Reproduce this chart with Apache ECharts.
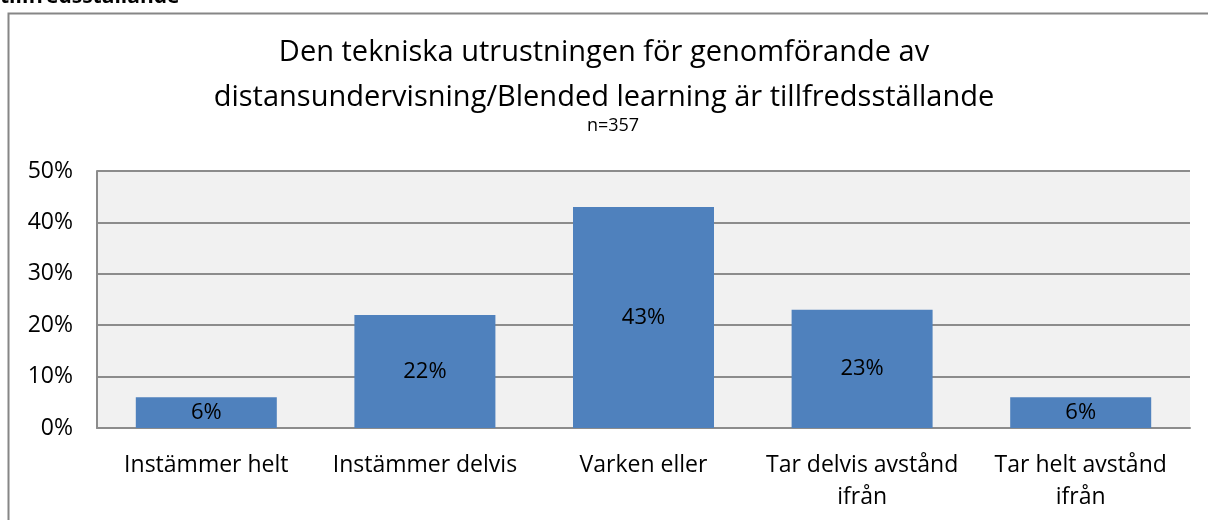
<!DOCTYPE html>
<html>
<head>
<meta charset="utf-8">
<script src="https://cdn.jsdelivr.net/npm/echarts@6/dist/echarts.min.js"></script>
<style>
  html, body { margin: 0; padding: 0; background: #fff; }
  #chart { width: 1208px; height: 520px; }
</style>
</head>
<body>
<div id="chart"></div>
<script>
// svarsalternativ och andelar
var categories = ['Instämmer helt', 'Instämmer delvis', 'Varken eller', 'Tar delvis avstånd\nifrån', 'Tar helt avstånd\nifrån'];
var shares = [0.06, 0.22, 0.43, 0.23, 0.06];
var yTicks = [0, 0.1, 0.2, 0.3, 0.4, 0.5];

var font = '"Open Sans", "Noto Sans", sans-serif';

var chartDom = document.getElementById('chart');
var myChart = echarts.init(chartDom);
var option;

option = {
  animation: false,
  textStyle: { fontFamily: font },
  title: {
    text: 'Den tekniska utrustningen för genomförande av\ndistansundervisning/Blended learning är tillfredsställande',
    left: 'center',
    top: 25,
    textStyle: { fontSize: 29, fontWeight: 'normal', color: '#000', lineHeight: 45, fontFamily: font }
  },
  graphic: [
    {
      type: 'rect',
      shape: { x: 8.5, y: 13.5, width: 1300, height: 600 },
      style: { fill: 'none', stroke: '#868686', lineWidth: 2 },
      silent: true
    },
    {
      type: 'text',
      x: 0,
      y: 8,
      style: { text: 'tillfredsställande', font: 'bold 21px ' + font, fill: '#000', verticalAlign: 'bottom' }
    },
    {
      type: 'text',
      x: 613,
      y: 126,
      style: { text: 'n=357', font: '18px ' + font, fill: '#000', align: 'center', verticalAlign: 'middle' }
    }
  ],
  grid: {
    left: 97,
    right: 18,
    top: 171,
    bottom: 92,
    show: true,
    backgroundColor: '#f1f1f1',
    borderWidth: 0
  },
  xAxis: {
    type: 'category',
    data: categories,
    axisTick: { show: false },
    axisLine: { lineStyle: { color: '#8c8c8c', width: 2 } },
    axisLabel: { interval: 0, hideOverlap: false, color: '#000', fontSize: 23, margin: 21, lineHeight: 32, fontFamily: font }
  },
  yAxis: {
    type: 'value',
    min: yTicks[0],
    max: yTicks[yTicks.length - 1],
    interval: 0.1,
    axisLine: { show: true, lineStyle: { color: '#8c8c8c', width: 2 } },
    axisTick: { show: false },
    axisLabel: {
      color: '#000',
      fontSize: 23,
      margin: 24,
      fontFamily: font,
      formatter: function (v) { return Math.round(v * 100) + '%'; }
    },
    splitLine: { lineStyle: { color: '#8c8c8c', width: 2 } }
  },
  series: [
    {
      type: 'bar',
      data: shares,
      barWidth: '64.5%',
      itemStyle: { color: '#4f81bd' },
      label: {
        show: true,
        position: 'inside',
        color: '#000',
        fontSize: 22,
        fontFamily: font,
        formatter: function (p) { return Math.round(p.value * 100) + '%'; }
      }
    }
  ]
};

option && myChart.setOption(option);
</script>
</body>
</html>
